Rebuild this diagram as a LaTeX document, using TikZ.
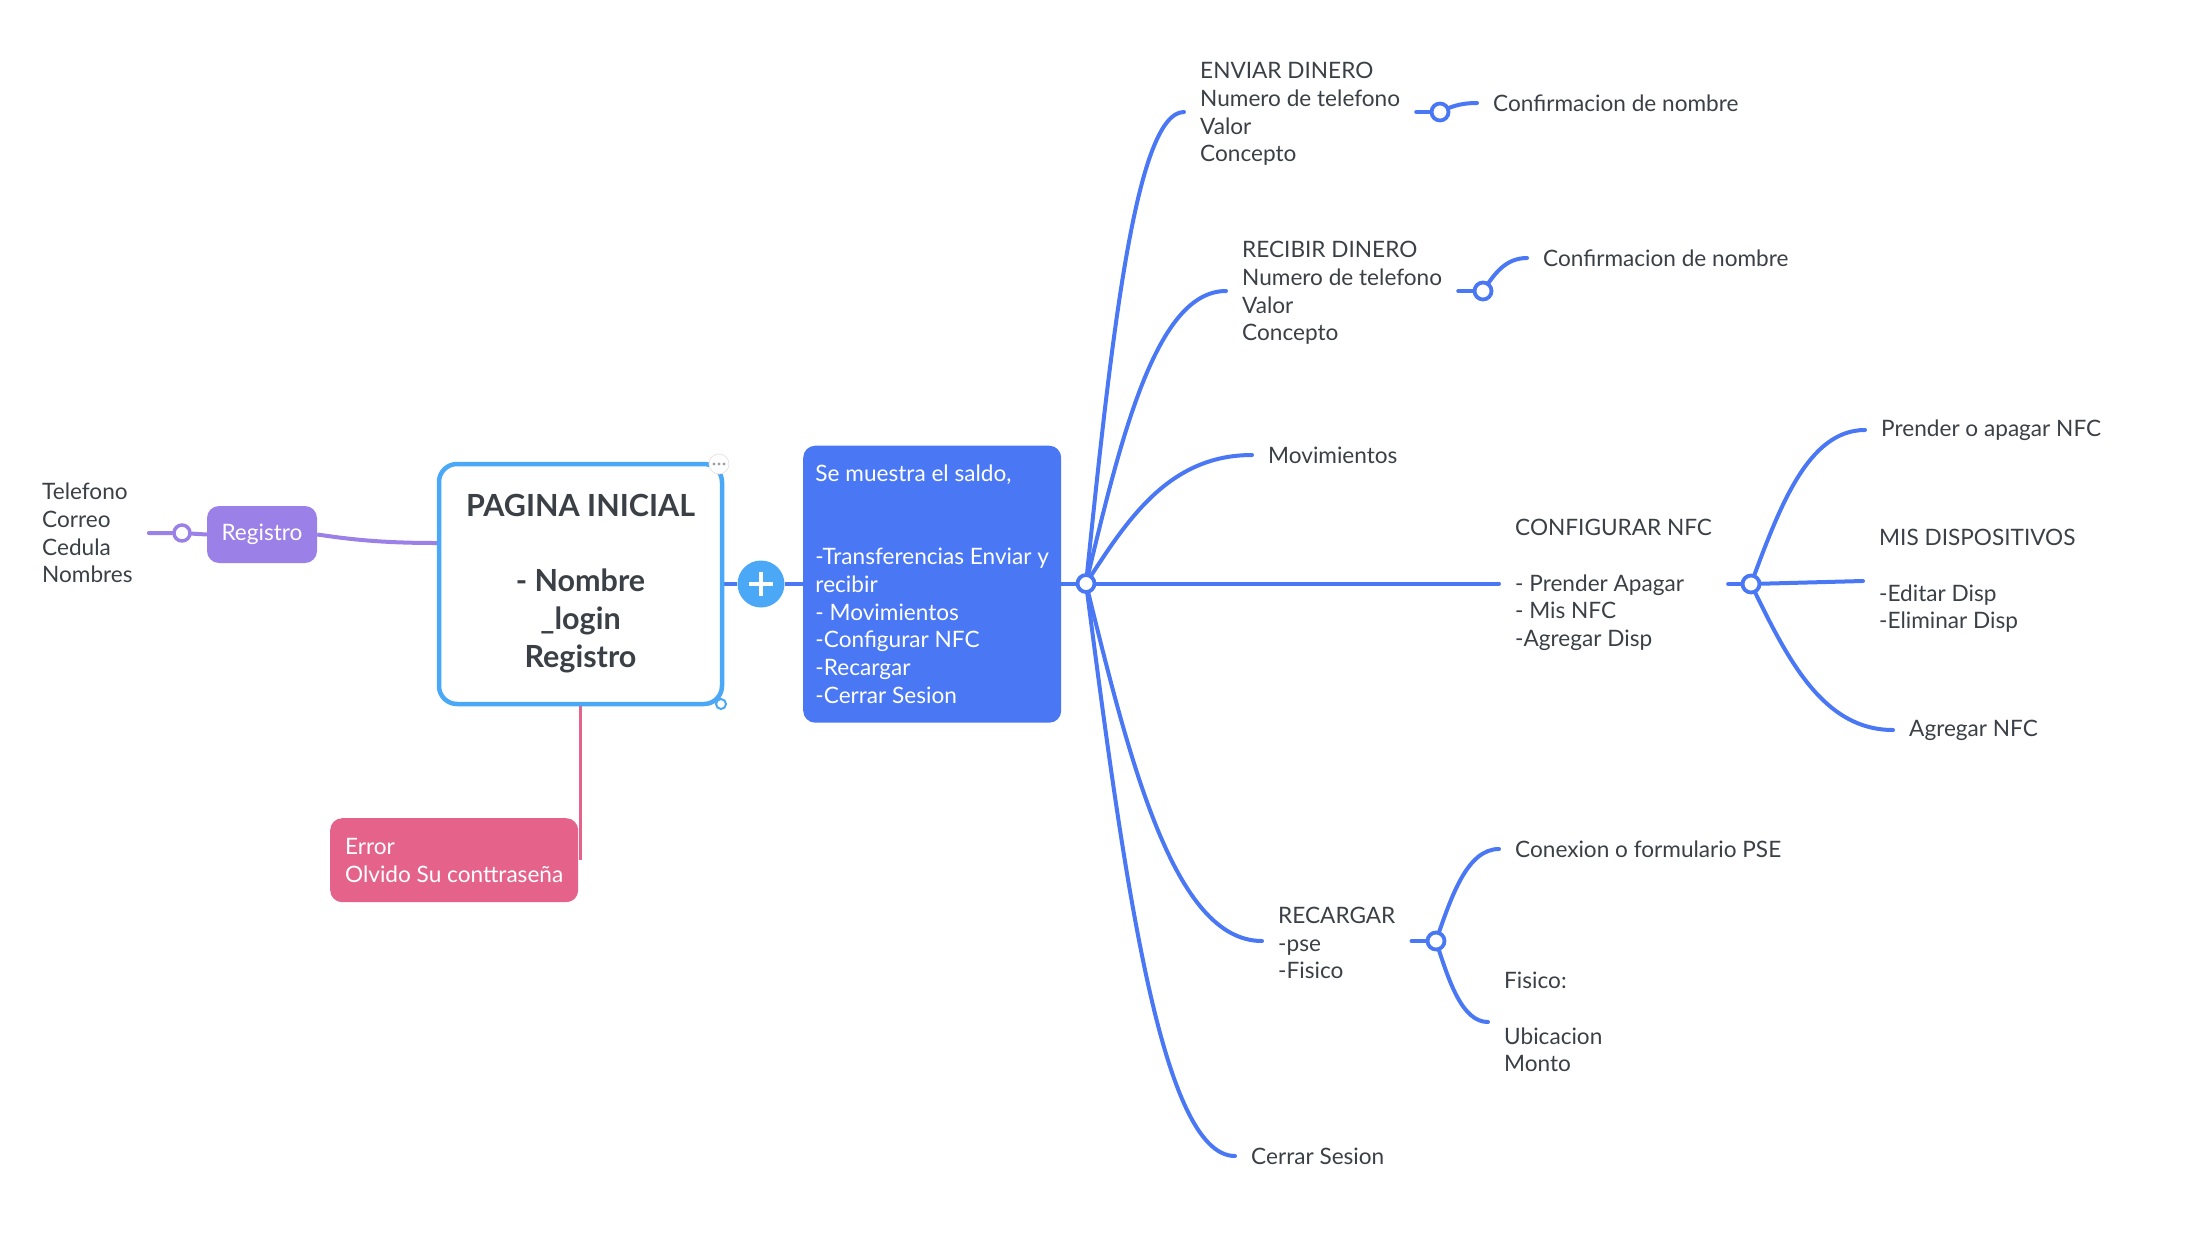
\documentclass[tikz,border=0pt]{standalone}
\usepackage{fontspec}
\setmainfont{Lato}
\usetikzlibrary{calc}
\definecolor{ink}{HTML}{3A4046}
\definecolor{mmblue}{HTML}{4A78F5}
\definecolor{skyblue}{HTML}{4AA8F6}
\definecolor{lilac}{HTML}{9B80E8}
\definecolor{rose}{HTML}{E5638B}
\definecolor{dotgray}{HTML}{9AA0A6}
\pgfdeclarelayer{bg}
\pgfsetlayers{bg,main}
\tikzset{
  body/.style={font=\fontsize{22.6}{27.7}\selectfont},
  txt/.style={body, text=ink, align=left, inner xsep=16pt, inner ysep=0pt, anchor=west},
  br/.style={draw=mmblue, line width=4pt, line cap=round},
  knob/.style={circle, draw=mmblue, fill=white, line width=3.8pt, minimum size=17pt, inner sep=0pt},
  tag/.style={body, rounded corners=12pt, text=white, inner sep=0pt},
}
% curved branch: leaves the start steeply, lands horizontally on the target
\newcommand\mmlink[3][]{\draw[br,#1] let \p1=(#2), \p2=(#3) in
  (\p1) .. controls ({\x1+0.25*(\x2-\x1)},{\y1+0.5*(\y2-\y1)}) and ({\x1+0.5*(\x2-\x1)},{\y2}) .. (\p2);}

\begin{document}
\begin{tikzpicture}[x=1pt, y=-1pt]
\useasboundingbox (0,0) rectangle (2190,1240);

% ---------- left part ----------
\node[txt] (datos) at (26,533) {Telefono\\Correo\\Cedula\\Nombres};
\node[circle, draw=lilac, fill=white, line width=3.5pt, minimum size=16pt, inner sep=0pt] (kreg) at (182,533) {};
\node[tag, fill=lilac, minimum width=110pt, minimum height=57pt] (reg) at (262,534.5) {Registro};

\node[draw=skyblue, line width=4.5pt, rounded corners=18pt, minimum width=283pt, minimum height=240pt,
      align=center, text=ink, font=\bfseries\fontsize{30.5}{38}\selectfont] (inicio) at (580.5,584)
  {PAGINA INICIAL\\[37pt]- Nombre\\\_login\\Registro};
\node[circle, fill=white, draw=black!10, line width=0.8pt, minimum size=20pt, inner sep=0pt] (menu) at (719,464) {};
\foreach \dx in {-5,0,5} \fill[dotgray] ($(menu)+(\dx,0)$) circle (1.6pt);
\node[circle, fill=white, draw=skyblue, line width=2pt, minimum size=10pt, inner sep=0pt] (grip) at (721,704) {};

\node[tag, fill=rose, anchor=north west, minimum width=248pt, minimum height=84pt,
      align=left] (err) at (330,818) {Error\\Olvido Su conttraseña};

\node[circle, fill=skyblue, minimum size=47pt, inner sep=0pt] (plus) at (761,584) {};
\draw[white, line width=4.5pt] ($(plus)+(-12,0)$) -- ($(plus)+(12,0)$) ($(plus)+(0,-12)$) -- ($(plus)+(0,12)$);

\node[tag, fill=mmblue, anchor=north west, minimum width=258pt, minimum height=277pt,
      align=left] (saldo) at (803,445.5)
  {Se muestra el saldo,\\[55.4pt]-Transferencias Enviar y\\recibir\\- Movimientos\\-Configurar NFC\\-Recargar\\-Cerrar Sesion};

\node[knob] (hub) at (1086,583.5) {};

% ---------- branches ----------
\node[txt] (enviar) at (1184,114) {ENVIAR DINERO\\Numero de telefono\\Valor\\Concepto};
\node[knob] (kenv) at (1440,112) {};
\node[txt] (conf1) at (1477,103) {Confirmacion de nombre};

\node[txt] (recibir) at (1226,293) {RECIBIR DINERO\\Numero de telefono\\Valor\\Concepto};
\node[knob] (krec) at (1483,291) {};
\node[txt] (conf2) at (1527,258) {Confirmacion de nombre};

\node[txt] (movs) at (1252,455) {Movimientos};

\node[txt] (nfc) at (1499,585) {CONFIGURAR NFC\\[27.7pt]- Prender Apagar\\- Mis NFC\\-Agregar Disp};
\node[knob] (knfc) at (1751,584) {};
\node[txt] (prender) at (1865,430) {Prender o apagar NFC};
\node[txt] (disp) at (1863,581) {MIS DISPOSITIVOS\\[27.7pt]-Editar Disp\\-Eliminar Disp};
\node[txt] (agregar) at (1893,730) {Agregar NFC};

\node[txt] (recargar) at (1262,943) {RECARGAR\\-pse\\-Fisico};
\node[knob] (krcg) at (1436,941) {};
\node[txt] (pse) at (1499,849) {Conexion o formulario PSE};
\node[txt] (fisico) at (1488,1022) {Fisico:\\[27.7pt]Ubicacion\\Monto};

\node[txt] (cerrar) at (1235,1156) {Cerrar Sesion};

% ---------- connectors ----------
\begin{pgfonlayer}{bg}
  \draw[lilac, line width=4pt, line cap=round] (datos.east |- kreg) -- (kreg) -- (reg.west);
  \mmlink[draw=lilac, line cap=butt]{reg.east}{[yshift=41pt]inicio.west}
  \draw[rose, line width=3.5pt] (inicio.south) -- (inicio.south |- err.east);
  \draw[mmblue, line width=4pt] (inicio.east) -- (plus) -- (saldo.west |- plus);
  \draw[br] (saldo.east |- hub) -- (hub);

  \mmlink{hub}{enviar.west |- kenv}
  \mmlink{hub}{recibir.west |- krec}
  \mmlink{hub}{movs.west}
  \draw[br] (hub) -- (nfc.west |- hub);
  \mmlink{hub}{recargar.west |- krcg}
  \mmlink{hub}{cerrar.west}

  \draw[br] (enviar.east |- kenv) -- (kenv);
  \mmlink{kenv}{conf1.west}
  \draw[br] (recibir.east |- krec) -- (krec);
  \mmlink{krec}{conf2.west}

  \draw[br] (nfc.east |- knfc) -- (knfc);
  \mmlink{knfc}{prender.west}
  \draw[br] (knfc) -- (disp.west);
  \mmlink{knfc}{agregar.west}

  \draw[br] (recargar.east |- krcg) -- (krcg);
  \mmlink{krcg}{pse.west}
  \mmlink{krcg}{fisico.west}
\end{pgfonlayer}
\end{tikzpicture}
\end{document}
